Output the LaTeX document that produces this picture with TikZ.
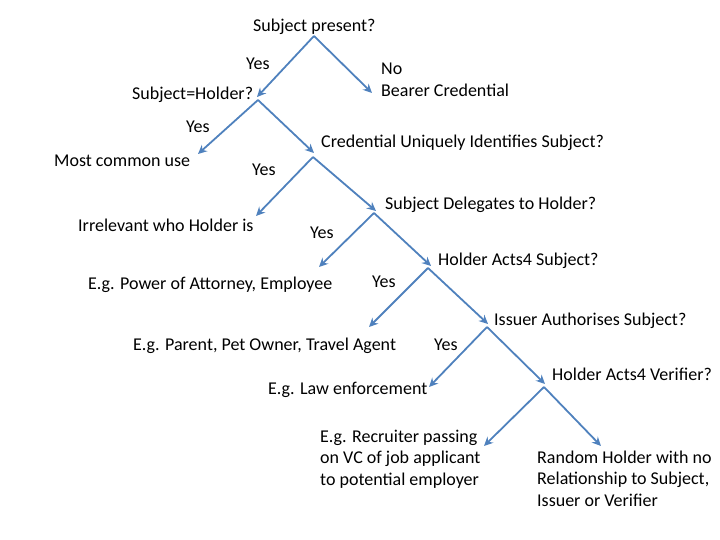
\documentclass[tikz,border=0pt]{standalone}
\usepackage{fontspec}
\setmainfont{Carlito}
\usetikzlibrary{arrows.meta}
\definecolor{arrowblue}{RGB}{79,129,189}
\begin{document}
\begin{tikzpicture}[x=1pt,y=-1pt,
  lbl/.style={anchor=base west,inner sep=0pt,font=\fontsize{18}{21.5}\selectfont},
  conn/.style={draw=arrowblue,line width=1.8pt,-{Stealth[length=9pt,width=8.5pt,inset=3pt]}}]
\useasboundingbox (0,0) rectangle (720,540);
% texts
\node[lbl] (q1) at (253,32) {Subject present?};
\node[lbl] (y1) at (246,70) {Yes};
\node[lbl] (no) at (381,75) {\begin{tabular}[t]{@{}l@{}}No\\Bearer Credential\end{tabular}};
\node[lbl] (q2) at (132,100) {Subject=Holder?};
\node[lbl] (y2) at (186,133) {Yes};
\node[lbl] (a2) at (54,167) {Most common use};
\node[lbl] (q3) at (321,148) {Credential Uniquely Identifies Subject?};
\node[lbl] (y3) at (252,176) {Yes};
\node[lbl] (a3) at (78,232) {Irrelevant who Holder is};
\node[lbl] (q4) at (385,210) {Subject Delegates to Holder?};
\node[lbl] (y4) at (310,238) {Yes};
\node[lbl] (a4) at (88,289) {E.g. Power of Attorney, Employee};
\node[lbl] (q5) at (438,265) {Holder Acts4 Subject?};
\node[lbl] (y5) at (372,287) {Yes};
\node[lbl] (a5) at (133,350) {E.g. Parent, Pet Owner, Travel Agent};
\node[lbl] (q6) at (494,325) {Issuer Authorises Subject?};
\node[lbl] (y6) at (434,350) {Yes};
\node[lbl] (a6) at (268,394) {E.g. Law enforcement};
\node[lbl] (q7) at (552,380) {Holder Acts4 Verifier?};
\node[lbl] (a7) at (320,442) {\begin{tabular}[t]{@{}l@{}}E.g. Recruiter passing\\on VC of job applicant\\to potential employer\end{tabular}};
\node[lbl] (b7) at (537,463) {\begin{tabular}[t]{@{}l@{}}Random Holder with no\\Relationship to Subject,\\Issuer or Verifier\end{tabular}};
% connector points
\coordinate (s1) at (314,36);
\coordinate (e1l) at (257,97);
\coordinate (e1r) at (372,93);
\coordinate (s2) at (258,100);
\coordinate (e2l) at (198,154);
\coordinate (e2r) at (314,153);
\coordinate (s3) at (313,157);
\coordinate (e3l) at (256,216);
\coordinate (e3r) at (376,211);
\coordinate (s4) at (374,213);
\coordinate (e4l) at (319,267);
\coordinate (e4r) at (431,266);
\coordinate (s5) at (428,268);
\coordinate (e5l) at (369,327);
\coordinate (e5r) at (488,324);
\coordinate (s6) at (487,327);
\coordinate (e6l) at (429,387);
\coordinate (e6r) at (545,384);
\coordinate (s7) at (544,387);
\coordinate (e7l) at (484,446);
\coordinate (e7r) at (601,446);
\foreach \s/\l/\r in {s1/e1l/e1r,s2/e2l/e2r,s3/e3l/e3r,s4/e4l/e4r,s5/e5l/e5r,s6/e6l/e6r,s7/e7l/e7r}{
  \draw[conn] (\s) -- (\l);
  \draw[conn] (\s) -- (\r);
}
\end{tikzpicture}
\end{document}
